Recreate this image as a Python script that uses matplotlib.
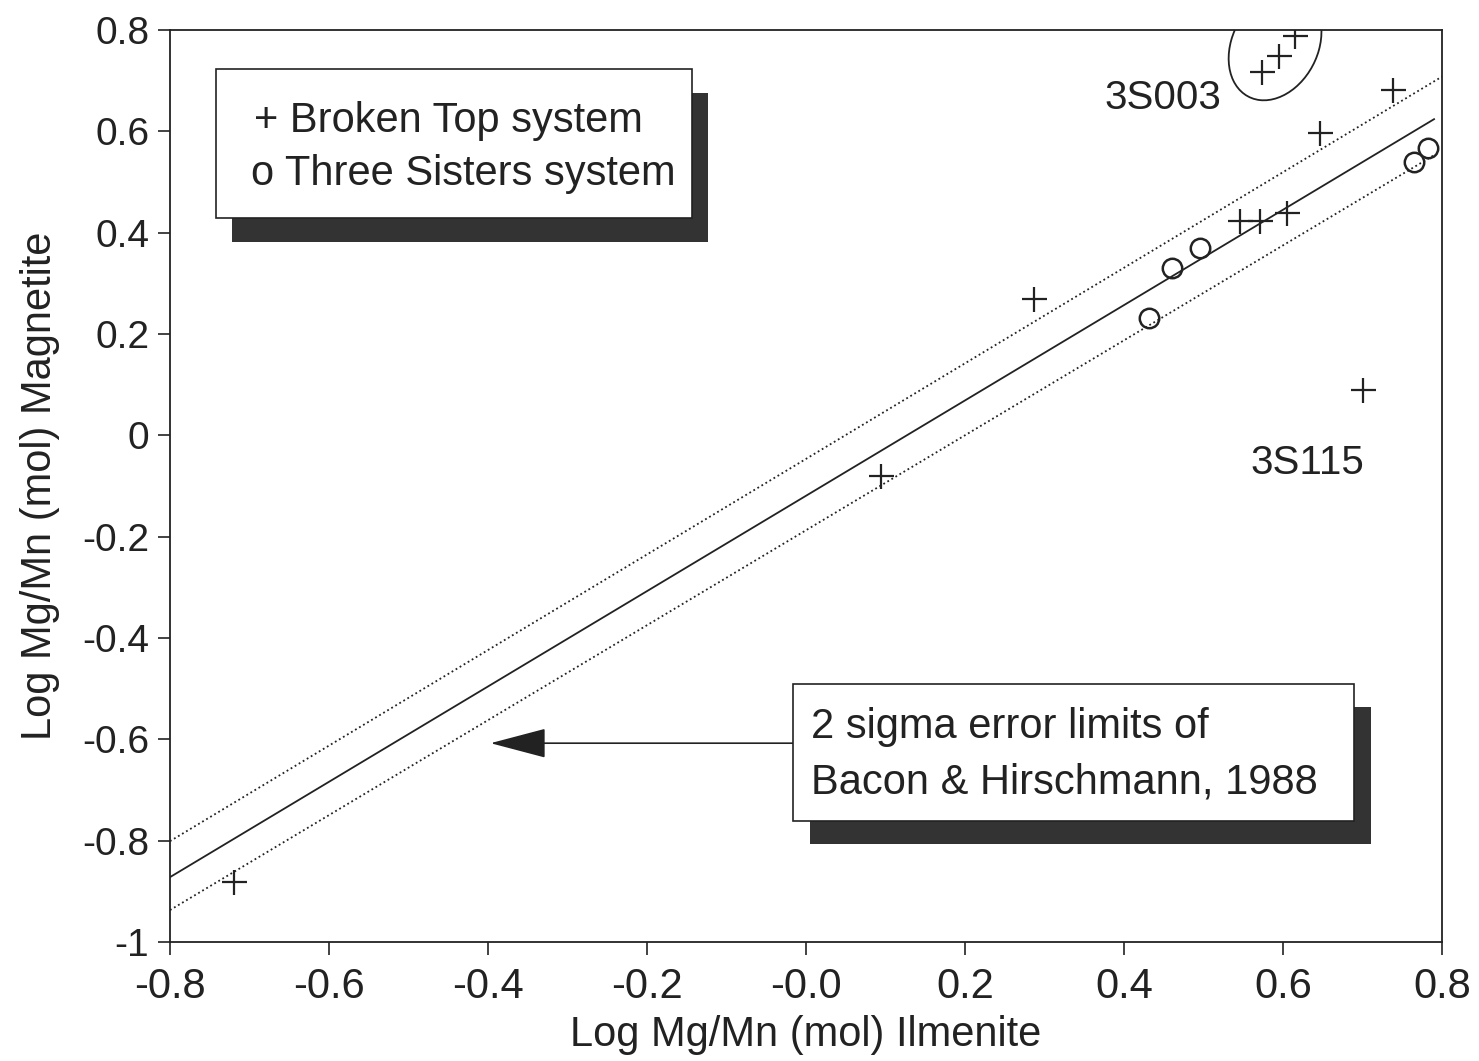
import matplotlib.pyplot as plt
from matplotlib.patches import Rectangle, Ellipse

plt.rcParams['font.family'] = ['Liberation Sans', 'DejaVu Sans']

INK = '#222222'

# Broken Top system (+)
bt_x = [-0.719, 0.094, 0.287, 0.546, 0.571, 0.605, 0.647, 0.738, 0.700, 0.574, 0.595, 0.615]
bt_y = [-0.882, -0.080, 0.270, 0.424, 0.423, 0.439, 0.596, 0.681, 0.090, 0.717, 0.749, 0.789]

# Three Sisters system (o)
ts_x = [0.432, 0.461, 0.495, 0.765, 0.783]
ts_y = [0.232, 0.330, 0.370, 0.540, 0.568]

# Bacon & Hirschmann (1988) line and 2 sigma limits (end points)
fit_x = [-0.8, 0.79]
fit_y = [-0.872, 0.624]
upper_x = [-0.8, 0.80]
upper_y = [-0.801, 0.708]
lower_x = [-0.8, 0.79]
lower_y = [-0.937, 0.553]

x_ticks = [-0.8, -0.6, -0.4, -0.2, 0.0, 0.2, 0.4, 0.6, 0.8]
x_labels = ['-0.8', '-0.6', '-0.4', '-0.2', '-0.0', '0.2', '0.4', '0.6', '0.8']
y_ticks = [0.8, 0.6, 0.4, 0.2, 0.0, -0.2, -0.4, -0.6, -0.8, -1.0]
y_labels = ['0.8', '0.6', '0.4', '0.2', '0', '-0.2', '-0.4', '-0.6', '-0.8', '-1']

fig = plt.figure(figsize=(14.79, 10.61), dpi=100)
ax = fig.add_axes([170 / 1479, 119 / 1061, 1272 / 1479, 912 / 1061])

# lines
ax.plot(fit_x, fit_y, color=INK, lw=1.3)
ax.plot(upper_x, upper_y, color=INK, lw=1.3, ls=(0, (1, 1.6)))
ax.plot(lower_x, lower_y, color=INK, lw=1.3, ls=(0, (1, 1.6)))

# data
ax.plot(bt_x, bt_y, ls='none', marker='+', ms=18, mew=1.6, color=INK)
ax.plot(ts_x, ts_y, ls='none', marker='o', ms=14, mew=1.8, mfc='none', mec=INK)

# loop round 3S003 (open where it meets the top border)
loop = Ellipse((0.59, 0.77), 0.112, 0.22, angle=-10, fill=False, ec=INK, lw=1.3)
ax.add_patch(loop)
loop.set_clip_path(ax.patch)
ax.text(0.522, 0.665, '3S003', fontsize=29, color=INK, ha='right', va='center')
ax.text(0.63, -0.055, '3S115', fontsize=29, color=INK, ha='center', va='center')

# legend box with shadow
tr = ax.transAxes
ax.add_patch(Rectangle((0.049, 0.768), 0.374, 0.163, transform=tr, fc='#333333', ec='none', zorder=4))
ax.add_patch(Rectangle((0.036, 0.794), 0.374, 0.163, transform=tr, fc='white', ec=INK, lw=1.2, zorder=5))
ax.text(0.066, 0.900, '+ Broken Top system', transform=tr, fontsize=30, color=INK, va='center', zorder=6)
ax.text(0.064, 0.842, 'o Three Sisters system', transform=tr, fontsize=30, color=INK, va='center', zorder=6)

# error limits box with shadow and arrow
ax.add_patch(Rectangle((0.503, 0.108), 0.441, 0.15, transform=tr, fc='#333333', ec='none', zorder=4))
ax.add_patch(Rectangle((0.490, 0.133), 0.441, 0.15, transform=tr, fc='white', ec=INK, lw=1.2, zorder=5))
ax.text(0.504, 0.236, '2 sigma error limits of', transform=tr, fontsize=30, color=INK, va='center', zorder=6)
ax.text(0.504, 0.175, 'Bacon & Hirschmann, 1988', transform=tr, fontsize=30, color=INK, va='center', zorder=6)
ax.annotate('', xy=(0.252, 0.218), xycoords=tr, xytext=(0.491, 0.218), textcoords=tr,
            arrowprops=dict(arrowstyle='-|>,head_length=3.6,head_width=0.95', color=INK, lw=1.2,
                            shrinkA=0, shrinkB=0))

ax.set_xlim(-0.8, 0.8)
ax.set_ylim(-1.0, 0.8)
ax.set_xticks(x_ticks)
ax.set_xticklabels(x_labels)
ax.set_yticks(y_ticks)
ax.set_yticklabels(y_labels)
ax.tick_params(direction='out', length=9, width=1.2, colors=INK, labelsize=28, pad=6)
ax.tick_params(axis='x', labelsize=30, pad=9)
for s in ax.spines.values():
    s.set_linewidth(1.3)
    s.set_color(INK)

ax.set_xlabel('Log Mg/Mn (mol) Ilmenite', fontsize=30, color=INK, labelpad=6)
ax.set_ylabel('Log Mg/Mn (mol) Magnetite', fontsize=30, color=INK, labelpad=16)

fig.savefig('out.png', dpi=100)
